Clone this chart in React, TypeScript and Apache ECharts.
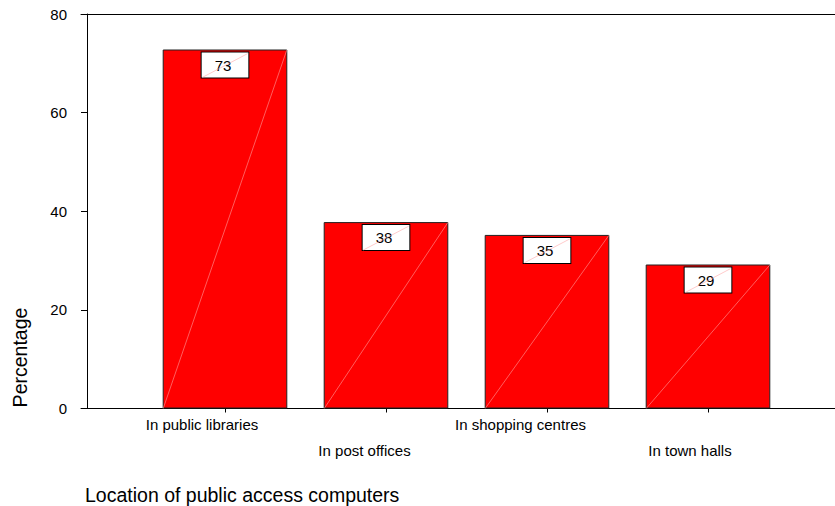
import React, { useEffect, useRef } from "react";
import * as echarts from "echarts";

const categories = ["In public libraries", "In post offices", "In shopping centres", "In town halls"];
const percentages = [72.8, 37.8, 35.2, 29.2];
const yTicks = { min: 0, max: 80, interval: 20 };
const yTitle = "Percentage";
const xTitle = "Location of public access computers";

const FONT = '"Liberation Sans", Arial, Helvetica, sans-serif';
const BAR_W = 124.6;
// layout: extra right padding that shifts each category label left of its tick
const LABEL_SHIFT_PAD = [46, 43, 53, 36];

export default function App() {
  const ref = useRef<HTMLDivElement>(null);
  useEffect(() => {
    if (!ref.current) return;
    const chart = echarts.init(ref.current, undefined, { renderer: "svg" });
    const rich: any = {};
    LABEL_SHIFT_PAD.forEach((p, i) => {
      rich["l" + i] = { fontSize: 15, color: "#000", fontFamily: FONT, lineHeight: 26, padding: [0, p, 0, 0] };
    });
    const option: any = {
      animation: false,
      backgroundColor: "#ffffff",
      textStyle: { fontFamily: FONT },
      grid: [
        { left: 81, right: 0, top: 14, bottom: 97.5 },
        { left: 144.5, right: 46.5, top: 14, bottom: 97.5 },
      ],
      xAxis: [
        {
          gridIndex: 0, type: "value", min: 0, max: 1, position: "bottom",
          axisLine: { show: true, lineStyle: { color: "#000", width: 1 } },
          axisTick: { show: false }, axisLabel: { show: false }, splitLine: { show: false },
        },
        {
          gridIndex: 0, type: "value", min: 0, max: 1, position: "top",
          axisLine: { show: true, lineStyle: { color: "#000", width: 1 } },
          axisTick: { show: false }, axisLabel: { show: false }, splitLine: { show: false },
        },
        {
          gridIndex: 1, type: "category", data: categories, position: "bottom",
          axisLine: { show: false },
          axisTick: { show: true, alignWithLabel: true, length: 4, lineStyle: { color: "#000" } },
          axisLabel: {
            interval: 0, margin: 3, fontSize: 15, color: "#000", fontFamily: FONT, lineHeight: 26,
            formatter: (v: string, i: number) => (i % 2 === 1 ? "\n" : "") + "{l" + i + "|" + v + "}",
            verticalAlign: "top",
            rich,
          },
          splitLine: { show: false },
        },
      ],
      yAxis: [
        {
          gridIndex: 0, type: "value", min: yTicks.min, max: yTicks.max, interval: yTicks.interval,
          offset: -6,
          axisLine: { show: true, lineStyle: { color: "#000", width: 1 } },
          axisTick: { show: true, length: 6, lineStyle: { color: "#000" } },
          axisLabel: { fontSize: 15, color: "#000", margin: 20, fontFamily: FONT },
          splitLine: { show: false },
        },
        {
          gridIndex: 1, type: "value", min: yTicks.min, max: yTicks.max, show: false,
        },
      ],
      series: [
        {
          type: "bar",
          xAxisIndex: 2,
          yAxisIndex: 1,
          data: percentages,
          barWidth: BAR_W,
          z: 2,
          itemStyle: { color: "#ff0000", borderColor: "#222", borderWidth: 1 },
          label: {
            show: true,
            position: "insideTop",
            distance: 3,
            formatter: (p: any) => String(Math.round(p.value)),
            fontSize: 15,
            lineHeight: 17,
            color: "#000",
            fontFamily: FONT,
            backgroundColor: "#ffffff",
            borderColor: "#000",
            borderWidth: 1,
            padding: [4, 17, 4, 13],
          },
        },
        {
          type: "custom",
          xAxisIndex: 2,
          yAxisIndex: 1,
          z: 5,
          silent: true,
          data: percentages.map((v, i) => [i, v]),
          renderItem: (params: any, api: any) => {
            const idx = api.value(0);
            const v = api.value(1);
            const top = api.coord([idx, v]);
            const base = api.coord([idx, 0]);
            const x0 = top[0] - BAR_W / 2;
            const x1 = top[0] + BAR_W / 2;
            const bx0 = top[0] - 23.3;
            const bx1 = top[0] + 23.3;
            const by0 = top[1] + 3.5;
            const by1 = top[1] + 28.5;
            return {
              type: "group",
              children: [
                { type: "line", shape: { x1: x0 + 0.5, y1: base[1], x2: x1 - 0.5, y2: top[1] + 0.5 }, style: { stroke: "#ff9c9c", lineWidth: 0.6 } },
                { type: "line", shape: { x1: bx0 + 0.5, y1: by1 - 0.5, x2: bx1 - 0.5, y2: by0 + 0.5 }, style: { stroke: "#ffa8a8", lineWidth: 0.6 } },
              ],
            };
          },
        },
      ],
      graphic: [
        {
          type: "text", x: 20, y: 357.5, rotation: Math.PI / 2,
          style: { text: yTitle, fontSize: 19.5, fontFamily: FONT, fill: "#000", align: "center", verticalAlign: "middle" },
        },
        {
          type: "text", x: 85, y: 495,
          style: { text: xTitle, fontSize: 19.5, fontFamily: FONT, fill: "#000", align: "left", verticalAlign: "middle" },
        },
      ],
    };
    chart.setOption(option);
    return () => chart.dispose();
  }, []);
  return <div ref={ref} style={{ position: "fixed", left: 0, top: 0, width: 835, height: 506 }} />;
}
